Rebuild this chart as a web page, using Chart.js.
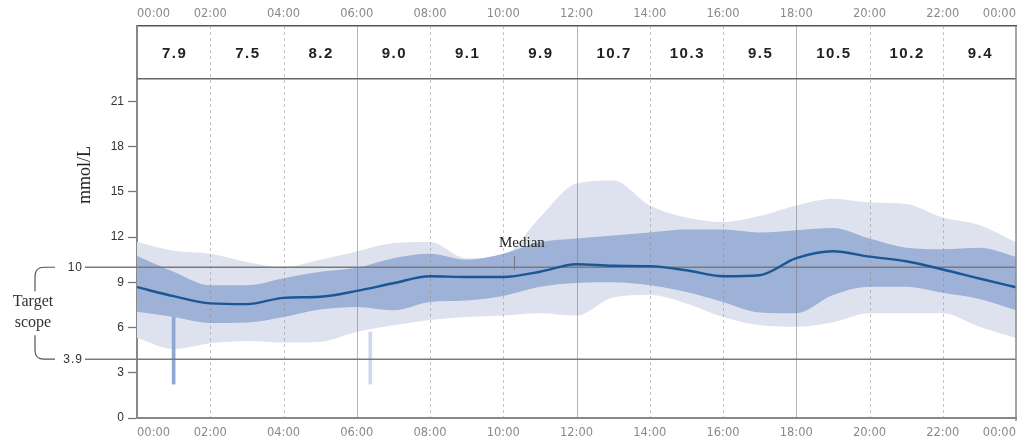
<!DOCTYPE html>
<html><head><meta charset="utf-8">
<script src="https://cdn.jsdelivr.net/npm/chart.js@4.4.0/dist/chart.umd.min.js"></script>
<style>html,body{margin:0;padding:0;background:#fff;}#wrap{width:1024px;height:436px;position:relative;}</style>
</head><body><div id="wrap"><canvas id="c"></canvas></div>
<script>
// ---- data ----
const hours      = [0,1,2,3,4,5,6,7,8,9,10,11,12,13,14,15,16,17,18,19,20,21,22,23,24];
const median     = [8.68,8.08,7.6,7.55,7.97,8.04,8.43,8.94,9.4,9.35,9.35,9.7,10.2,10.1,10.07,9.8,9.4,9.47,10.6,11.06,10.7,10.4,9.85,9.25,8.67];
const p75        = [10.75,9.7,8.8,8.8,9.27,9.7,9.96,10.6,10.9,10.5,10.9,11.65,11.9,12.1,12.3,12.5,12.5,12.3,12.45,12.6,11.9,11.3,11.2,11.3,10.7];
const p25        = [7.04,6.7,6.3,6.33,6.7,7.2,7.37,7.15,7.7,7.8,8.1,8.7,8.95,9.0,8.8,8.35,7.7,7.0,6.95,8.15,8.7,8.7,8.3,7.9,7.15];
const p95        = [11.68,11.1,10.9,10.35,10.0,10.5,11.05,11.6,11.68,10.6,10.8,13.3,15.55,15.75,14.1,13.3,13.0,13.4,14.1,14.55,14.3,14.2,13.3,12.8,11.65];
const p5         = [5.3,4.57,4.95,5.1,5.0,5.05,5.7,6.15,6.5,6.7,6.8,6.95,6.8,8.0,8.15,7.6,6.7,6.15,6.05,6.35,6.95,6.95,6.95,6.05,5.3];
const spikeHours = [1.0, 6.37];
const spikeLow   = [2.25, 2.25];
const spikeHigh  = [6.7, 5.7];
const headerValues = [7.9,7.5,8.2,9.0,9.1,9.9,10.7,10.3,9.5,10.5,10.2,9.4];
const xTickLabels  = ['00:00','02:00','04:00','06:00','08:00','10:00','12:00','14:00','16:00','18:00','20:00','22:00','00:00'];
const yTicks       = [0,3,6,9,12,15,18,21];
const targetRange  = [3.9, 10];
const solidGridHours = [6,12,18];
const headerLineValue = 22.5;
const medianLabelHour = 10.3;

const pts = arr => hours.map((h,i)=>({x:h,y:arr[i]}));
const LIGHT='#dde2ee', DARK='#9eb1d6';

const decor = {
  id:'decor',
  beforeDatasetDraw(chart,args){
    if(args.index!==4) return;
    const ctx=chart.ctx, x=chart.scales.x, y=chart.scales.y, a=chart.chartArea;
    ctx.save();
    for(let h=2; h<24; h+=2){
      const px=Math.round(x.getPixelForValue(h))+0.5;
      ctx.beginPath();
      if(solidGridHours.includes(h)){ctx.setLineDash([]);ctx.strokeStyle='rgba(120,120,120,0.55)';ctx.lineWidth=1;}
      else {ctx.setLineDash([3,3]);ctx.strokeStyle='rgba(140,140,140,0.5)';ctx.lineWidth=1;}
      ctx.moveTo(px,a.top);ctx.lineTo(px,a.bottom);ctx.stroke();
    }
    ctx.setLineDash([]);
    ctx.strokeStyle='#7a7a7a';ctx.lineWidth=1.6;
    targetRange.forEach(v=>{
      const py=y.getPixelForValue(v);
      ctx.beginPath();ctx.moveTo(85,py);ctx.lineTo(a.right,py);ctx.stroke();
    });
    ctx.restore();
  },
  afterDraw(chart){
    const ctx=chart.ctx, x=chart.scales.x, y=chart.scales.y, a=chart.chartArea;
    ctx.save();
    const hy=y.getPixelForValue(headerLineValue);
    ctx.strokeStyle='#666';ctx.lineWidth=1.6;
    ctx.beginPath();ctx.moveTo(a.left,hy);ctx.lineTo(a.right,hy);ctx.stroke();
    ctx.strokeStyle='#888';ctx.lineWidth=1.5;
    ctx.beginPath();ctx.moveTo(a.right,a.top);ctx.lineTo(a.right,a.bottom+3);ctx.stroke();
    ctx.fillStyle='#222';ctx.font='600 15px "Liberation Sans", Arial, sans-serif';
    ctx.textAlign='center';ctx.textBaseline='middle';
    try{ctx.letterSpacing='1.5px';}catch(e){}
    const hmid=(a.top+hy)/2;
    headerValues.forEach((v,i)=>{
      const cx=(x.getPixelForValue(2*i)+x.getPixelForValue(2*i+2))/2;
      ctx.fillText(v.toFixed(1),cx+1,hmid+1);
    });
    ctx.font='12px "Liberation Sans", Arial, sans-serif';ctx.fillStyle='#333';ctx.textAlign='right';
    ctx.letterSpacing='1px';
    ctx.fillText(String(targetRange[1]),83,y.getPixelForValue(targetRange[1]));
    ctx.fillText(targetRange[0].toFixed(1),83,y.getPixelForValue(targetRange[0]));
    ctx.letterSpacing='0px';
    const t=y.getPixelForValue(targetRange[1]), b=y.getPixelForValue(targetRange[0]);
    ctx.strokeStyle='#555';ctx.lineWidth=1.2;
    ctx.beginPath();ctx.moveTo(55,t);ctx.lineTo(44,t);ctx.quadraticCurveTo(35,t,35,t+9);ctx.lineTo(35,t+24);ctx.stroke();
    ctx.beginPath();ctx.moveTo(35,b-24);ctx.lineTo(35,b-9);ctx.quadraticCurveTo(35,b,44,b);ctx.lineTo(55,b);ctx.stroke();
    ctx.fillStyle='#333';ctx.font='16px "Liberation Serif", "Times New Roman", serif';ctx.textAlign='center';
    ctx.fillText('Target',33,302);
    ctx.fillText('scope',33,323);
    ctx.save();ctx.translate(85,175);ctx.rotate(-Math.PI/2);
    ctx.font='18px "Liberation Serif", "Times New Roman", serif';ctx.fillStyle='#222';
    ctx.fillText('mmol/L',0,0);ctx.restore();
    const mx=x.getPixelForValue(medianLabelHour);
    ctx.font='15px "Liberation Serif", "Times New Roman", serif';ctx.fillStyle='#222';ctx.textAlign='left';
    ctx.fillText('Median',499,243);
    ctx.strokeStyle='#777';ctx.lineWidth=1;
    ctx.beginPath();ctx.moveTo(Math.round(mx)+0.5,256);ctx.lineTo(Math.round(mx)+0.5,270);ctx.stroke();
    ctx.restore();
  }
};

new Chart(document.getElementById('c'),{
  type:'line',
  data:{datasets:[
    {data:pts(p95),fill:'+1',backgroundColor:LIGHT,borderWidth:0,pointRadius:0,cubicInterpolationMode:'monotone',order:6},
    {data:pts(p5),fill:false,borderWidth:0,pointRadius:0,cubicInterpolationMode:'monotone',order:6},
    {data:pts(p75),fill:'+1',backgroundColor:DARK,borderWidth:0,pointRadius:0,cubicInterpolationMode:'monotone',order:4},
    {data:pts(p25),fill:false,borderWidth:0,pointRadius:0,cubicInterpolationMode:'monotone',order:4},
    {data:pts(median),fill:false,borderColor:'#1b5794',borderWidth:2.4,pointRadius:0,cubicInterpolationMode:'monotone',order:1},
    {type:'bar',data:spikeHours.map((h,i)=>({x:h,y:[spikeLow[i],spikeHigh[i]]})),backgroundColor:['#8fa8d2','#cfd7ea'],barThickness:3,order:5}
  ]},
  options:{
    responsive:true,maintainAspectRatio:false,animation:false,
    layout:{padding:{left:0,right:3,top:0,bottom:0}},
    plugins:{legend:{display:false},tooltip:{enabled:false}},
    scales:{
      x:{type:'linear',position:'bottom',min:0,max:24,offset:false,
        afterFit:s=>{s.height=18;},
        grid:{display:false,drawTicks:false},
        border:{display:true,color:'#888',width:2},
        ticks:{stepSize:2,align:'inner',padding:8,maxRotation:0,autoSkip:false,color:'#8a8a8a',
          font:{family:'"DejaVu Sans", sans-serif',size:11.5},
          callback:(v,i)=>xTickLabels[i]}},
      x2:{type:'linear',position:'top',min:0,max:24,offset:false,
        afterFit:s=>{s.height=26;},
        grid:{display:false,drawTicks:false},
        border:{display:true,color:'#555',width:1.5},
        ticks:{stepSize:2,align:'inner',padding:5,maxRotation:0,autoSkip:false,color:'#8a8a8a',
          font:{family:'"DejaVu Sans", sans-serif',size:11.5},
          callback:(v,i)=>xTickLabels[i]}},
      y:{min:0,max:26,
        afterFit:s=>{s.width=137;},
        afterBuildTicks:s=>{s.ticks=yTicks.map(v=>({value:v}));},
        grid:{drawOnChartArea:false,drawTicks:true,tickLength:9,tickColor:'#777',tickWidth:1.3},
        border:{display:true,color:'#888',width:2},
        ticks:{padding:4,color:'#333',font:{family:'"Liberation Sans", Arial, sans-serif',size:12}}}
    }
  },
  plugins:[decor]
});
</script></body></html>
